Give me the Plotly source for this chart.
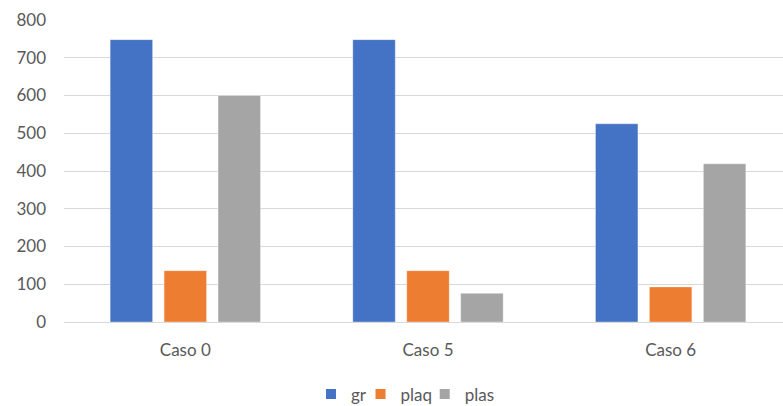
import plotly.graph_objects as go

categories = ["Caso 0", "Caso 5", "Caso 6"]
gr = [748, 748, 525]
plaq = [136, 136, 93]
plas = [600, 76, 419]
y_ticks = [0, 100, 200, 300, 400, 500, 600, 700, 800]

series = [
    ("gr", gr, "#4472C4"),
    ("plaq", plaq, "#ED7D31"),
    ("plas", plas, "#A5A5A5"),
]

font = dict(family="Lato, Liberation Sans, sans-serif", size=17, color="#595959")

# horizontal position of each legend entry (paper fraction)
legend_x = [0.3435, 0.4124, 0.5017]
legend_keys = ["legend", "legend2", "legend3"]

fig = go.Figure()
for name, values, color in series:
    fig.add_trace(go.Bar(
        x=categories, y=values, name=name, showlegend=False,
        marker=dict(color=color, line=dict(width=1, color="rgba(255,255,255,0.35)")),
    ))

# legend entries: small square swatches, one legend per series
for (name, values, color), key in zip(series, legend_keys):
    fig.add_trace(go.Scatter(
        x=[None], y=[None], mode="markers", name=name, legend=key,
        marker=dict(symbol="square", size=10, color=color),
        showlegend=True,
    ))

legend_common = dict(
    orientation="h", xanchor="left", yref="container", y=0.0283,
    yanchor="middle", font=font, itemwidth=30, bgcolor="rgba(0,0,0,0)",
)

fig.update_layout(
    width=783, height=406,
    margin=dict(l=64, r=0, t=20, b=84),
    paper_bgcolor="white", plot_bgcolor="white",
    font=font,
    barmode="group", bargap=0.333, bargroupgap=0.213,
    legend=dict(x=legend_x[0], **legend_common),
    legend2=dict(x=legend_x[1], **legend_common),
    legend3=dict(x=legend_x[2], **legend_common),
    xaxis=dict(
        range=[-0.5, 2.463], showgrid=False, showline=False, zeroline=False,
        ticks="", ticklabelstandoff=16, tickfont=font,
    ),
    yaxis=dict(
        range=[0, 800], tickvals=y_ticks, showgrid=True, gridcolor="#D9D9D9",
        gridwidth=1, zeroline=True, zerolinecolor="#D9D9D9", zerolinewidth=1,
        showline=False, ticks="", ticklabelstandoff=17, tickfont=font,
    ),
)

fig.write_html("out.html")
